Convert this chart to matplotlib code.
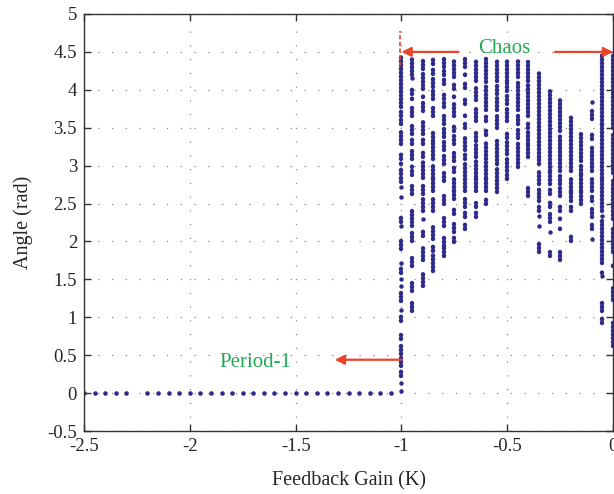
import matplotlib
matplotlib.use("Agg")
import matplotlib.pyplot as plt

plt.rcParams["font.family"] = ["Liberation Serif", "DejaVu Serif"]
plt.rcParams["axes.unicode_minus"] = False

DOT = "#2e2b8c"
RED = "#e8452c"
GREEN = "#1faa55"

# Period-1 branch: fixed point at zero angle
k_period1 = [-2.5, -2.45, -2.4, -2.35, -2.3, -2.2, -2.15, -2.1, -2.05, -2.0,
             -1.95, -1.9, -1.85, -1.8, -1.75, -1.7, -1.65, -1.6, -1.55, -1.5,
             -1.45, -1.4, -1.35, -1.3, -1.25, -1.2, -1.15, -1.1, -1.05]
angle_period1 = [0.0] * len(k_period1)

# Chaotic region: gain values and the angle bands visited at each gain
k_chaos = [-1.0, -0.95, -0.9, -0.85, -0.8, -0.75, -0.7, -0.65, -0.6, -0.55,
           -0.5, -0.45, -0.4, -0.35, -0.3, -0.25, -0.2, -0.15, -0.1, -0.05, 0.0]

bands_chaos = [
    # -1.00
    [(3.77, 4.43), (3.65, 3.72), (3.55, 3.61), (3.28, 3.46), (3.09, 3.18),
     (3.02, 3.06), (2.89, 2.95), (2.78, 2.85), (2.72, 2.72), (2.58, 2.58),
     (2.25, 2.32), (2.20, 2.20), (1.90, 2.00), (1.72, 1.72), (1.59, 1.67),
     (1.50, 1.50), (1.41, 1.41), (1.21, 1.34), (1.10, 1.10), (0.95, 1.04),
     (0.71, 0.77), (0.51, 0.62), (0.36, 0.47), (0.22, 0.31), (0.13, 0.13),
     (0.03, 0.04)],
    # -0.95
    [(4.19, 4.41), (4.15, 4.17), (3.95, 4.04), (3.88, 3.92), (3.66, 3.79),
     (3.42, 3.55), (3.28, 3.35), (3.09, 3.22), (2.98, 3.02), (2.87, 2.93),
     (2.62, 2.76), (2.29, 2.40), (2.20, 2.25), (2.00, 2.12), (1.67, 1.79),
     (1.34, 1.48), (1.08, 1.23)],
    # -0.90
    [(4.28, 4.41), (4.10, 4.21), (4.01, 4.06), (3.91, 3.95), (3.72, 3.84),
     (3.42, 3.59), (3.28, 3.35), (3.11, 3.20), (2.84, 3.05), (2.62, 2.76),
     (2.40, 2.60), (2.29, 2.29), (2.07, 2.16), (1.76, 1.92), (1.41, 1.61)],
    # -0.85
    [(4.34, 4.41), (4.21, 4.30), (4.04, 4.17), (3.88, 3.99), (3.66, 3.79),
     (3.33, 3.46), (3.09, 3.31), (2.84, 3.04), (2.66, 2.82), (2.40, 2.58),
     (2.03, 2.23), (1.87, 1.96), (1.61, 1.83)],
    # -0.80
    [(4.30, 4.41), (4.19, 4.25), (4.08, 4.17), (3.88, 3.95), (3.77, 3.84),
     (3.55, 3.66), (3.38, 3.48), (3.20, 3.31), (3.02, 3.13), (2.80, 2.91),
     (2.49, 2.62), (2.20, 2.32), (1.94, 2.09), (1.81, 1.92)],
    # -0.75
    [(4.17, 4.41), (4.01, 4.08), (3.90, 3.95), (3.66, 3.84), (3.46, 3.55),
     (3.28, 3.42), (3.06, 3.20), (2.91, 2.98), (2.67, 2.84), (2.56, 2.67),
     (2.36, 2.45), (2.12, 2.23), (1.99, 2.09)],
    # -0.70
    [(4.30, 4.41), (4.19, 4.23), (4.03, 4.12), (3.81, 3.88), (3.66, 3.70),
     (3.50, 3.55), (3.20, 3.40), (3.09, 3.15), (2.67, 3.02), (2.45, 2.58),
     (2.32, 2.40), (2.16, 2.25)],
    # -0.65
    [(4.12, 4.41), (3.86, 4.06), (3.59, 3.77), (3.33, 3.46), (3.11, 3.31),
     (2.85, 3.09), (2.67, 2.84), (2.45, 2.51), (2.32, 2.40)],
    # -0.60
    [(4.10, 4.41), (3.99, 4.08), (3.73, 3.95), (3.59, 3.68), (3.40, 3.50),
     (3.09, 3.33), (2.84, 3.06), (2.67, 2.84), (2.49, 2.58)],
    # -0.55
    [(4.12, 4.41), (3.95, 4.06), (3.73, 3.90), (3.50, 3.68), (3.02, 3.33),
     (2.80, 2.98), (2.65, 2.76)],
    # -0.50
    [(4.12, 4.41), (3.99, 4.10), (3.81, 3.95), (3.59, 3.79), (3.37, 3.46),
     (3.15, 3.31), (2.93, 3.09), (2.82, 2.91)],
    # -0.45
    [(4.17, 4.41), (3.99, 4.12), (3.73, 3.95), (3.55, 3.68), (3.37, 3.50),
     (2.98, 3.33)],
    # -0.40
    [(4.12, 4.37), (3.90, 4.08), (3.66, 3.88), (3.50, 3.59), (3.28, 3.46),
     (3.11, 3.28), (2.60, 2.71)],
    # -0.35
    [(3.11, 4.22), (3.02, 3.09), (2.76, 2.93), (2.62, 2.71), (2.53, 2.58),
     (2.40, 2.45), (2.33, 2.33), (2.20, 2.20), (1.86, 1.96)],
    # -0.30
    [(2.93, 4.03), (2.76, 2.93), (2.62, 2.71), (2.45, 2.53), (2.25, 2.36),
     (2.12, 2.12), (1.81, 1.86)],
    # -0.25
    [(3.46, 3.88), (2.93, 3.42), (2.76, 2.89), (2.60, 2.71), (2.40, 2.49),
     (2.29, 2.32), (2.16, 2.20), (1.75, 1.86)],
    # -0.20
    [(2.93, 3.66), (2.67, 2.84), (2.53, 2.67), (2.40, 2.49), (2.00, 2.07)],
    # -0.15
    [(3.06, 3.42), (2.89, 3.02), (2.67, 2.87), (2.49, 2.67)],
    # -0.10
    [(3.84, 3.84), (3.62, 3.75), (3.35, 3.44), (2.93, 3.26), (2.67, 2.84),
     (2.53, 2.62), (2.32, 2.45), (2.16, 2.23), (2.03, 2.03)],
    # -0.05
    [(3.55, 4.48), (2.84, 3.55), (2.40, 2.84), (2.33, 2.33), (1.72, 2.29),
     (1.59, 1.63), (1.54, 1.54), (1.08, 1.23), (0.93, 1.01)],
    # 0.00
    [(3.50, 4.45), (2.90, 3.40), (2.30, 2.80), (1.86, 2.16), (1.67, 1.72),
     (1.23, 1.41), (0.62, 0.97)],
]

x_ticks = [-2.5, -2.0, -1.5, -1.0, -0.5, 0.0]
y_ticks = [-0.5, 0, 0.5, 1, 1.5, 2, 2.5, 3, 3.5, 4, 4.5, 5]

fig = plt.figure(figsize=(6.14, 4.94), dpi=100)
ax = fig.add_axes([0.1368, 0.1275, 0.8617, 0.8442])

ax.set_xlim(-2.5, 0.0)
ax.set_ylim(-0.5, 5.0)
ax.set_xticks(x_ticks)
ax.set_yticks(y_ticks)
ax.set_xticklabels([f"{v:g}" for v in x_ticks])
ax.set_yticklabels([f"{v:g}" for v in y_ticks])

ax.grid(True, color="#8a8a8a", linestyle=(0, (1, 10)), linewidth=0.9)
ax.set_axisbelow(True)

ax.tick_params(direction="in", length=5, width=1, colors="#333333",
               labelcolor="#262626", labelsize=13.5, top=True, right=True,
               pad=5)
for s in ax.spines.values():
    s.set_color("#333333")
    s.set_linewidth(1.0)

# Period-1 branch
ax.plot(k_period1, angle_period1, linestyle="none", marker="o",
        markersize=3.3, color=DOT, markeredgewidth=0)

# Chaotic bands drawn as beaded vertical strips
for k, bands in zip(k_chaos, bands_chaos):
    for lo, hi in bands:
        if hi - lo < 0.02:
            ax.plot([k], [lo], linestyle="none", marker="o", markersize=3.2,
                    color=DOT, markeredgewidth=0)
        else:
            ax.plot([k, k], [lo, hi], color=DOT, linewidth=3.2,
                    linestyle=(0, (0.1, 0.75)), dash_capstyle="round")

# Boundary marker at the onset of chaos
ax.plot([-1.007, -1.007], [4.31, 4.78], color=RED, linewidth=1.2,
        linestyle=(0, (2.5, 1.5)))

# Annotations
arrow_kw = dict(arrowstyle="-|>", color=RED, lw=1.6, mutation_scale=14,
                shrinkA=0, shrinkB=0)
ax.annotate("", xy=(-1.0, 4.5), xytext=(-0.73, 4.5), arrowprops=arrow_kw)
ax.annotate("", xy=(0.0, 4.5), xytext=(-0.275, 4.5), arrowprops=arrow_kw,
            annotation_clip=False)
ax.text(-0.512, 4.55, "Chaos", color=GREEN, fontsize=15, ha="center",
        va="center")

ax.annotate("", xy=(-1.315, 0.44), xytext=(-1.0, 0.44), arrowprops=arrow_kw)
ax.text(-1.69, 0.41, "Period-1", color=GREEN, fontsize=15, ha="center",
        va="center")

ax.set_xlabel("Feedback Gain (K)", fontsize=14.5, color="#262626",
              labelpad=12)
ax.set_ylabel("Angle (rad)", fontsize=14.5, color="#262626", labelpad=10)

fig.savefig("out.png", dpi=100)
